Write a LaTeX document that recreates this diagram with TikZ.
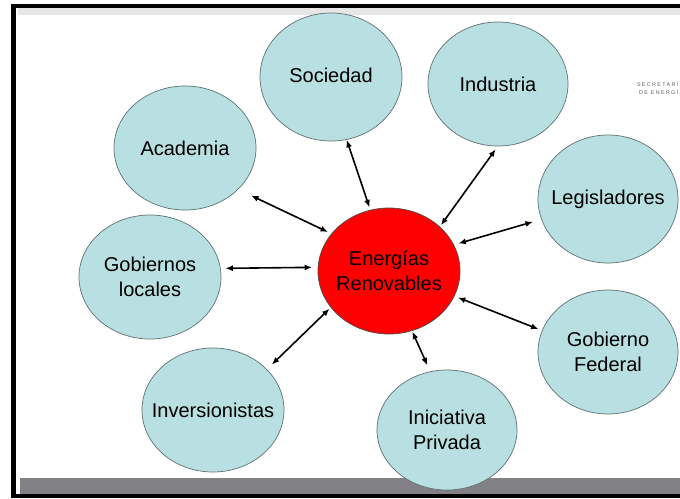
\documentclass[tikz,border=0pt]{standalone}
\usepackage{fontspec}
\setmainfont{Liberation Sans}
\newfontfamily\logofont[LetterSpace=25]{Liberation Sans}
\usetikzlibrary{shapes.geometric,arrows.meta}
\definecolor{bub}{HTML}{B8DFE1}
\definecolor{bubedge}{HTML}{5F7273}
\definecolor{barg}{HTML}{818185}
\definecolor{bandg}{HTML}{E6E6E6}
\definecolor{logog}{HTML}{606060}
\begin{document}
\begin{tikzpicture}[x=1pt,y=-1pt,
  bubble/.style={ellipse,draw=bubedge,line width=0.7pt,fill=bub,inner sep=0pt,outer sep=0pt},
  core/.style={bubble,fill=red,draw=black!70},
  txt/.style={align=center,inner sep=0pt,font=\fontsize{20}{25}\selectfont},
  link/.style={{Latex[length=7.5pt,width=6pt]}-{Latex[length=7.5pt,width=6pt]},line width=1.6pt,black},
  logo/.style={anchor=east,inner sep=0pt,text=logog,font=\logofont\fontsize{5.4}{6}\selectfont}]
\useasboundingbox (0,0) rectangle (680,498);
% frame
\fill[white] (0,0) rectangle (680,498);
\fill[bandg] (18,8) rectangle (680,15);
\fill[barg] (20,478) rectangle (680,494);
\fill[black] (11,4) rectangle (680,8);
\fill[black] (11,4) rectangle (16,498);
\fill[black] (11,494) rectangle (680,498);
% logo
\node[logo] (logo1) at (678.5,84) {SECRETARÍ};
\node[logo] (logo2) at (678.5,92) {DE ENERGÍ};
% nodes
\node[core, minimum width=142pt, minimum height=126pt] (er) at (389,271) {};
\node[txt] (ert) at (er) {Energías\\Renovables};
\node[bubble, minimum width=142pt, minimum height=128pt] (soc) at (331,77) {};
\node[txt] (soct) at (331,75) {Sociedad};
\node[bubble, minimum width=140pt, minimum height=124pt] (ind) at (498,84) {};
\node[txt] (indt) at (ind) {Industria};
\node[bubble, minimum width=142pt, minimum height=124pt] (aca) at (185,148) {};
\node[txt] (acat) at (aca) {Academia};
\node[bubble, minimum width=140pt, minimum height=128pt] (leg) at (608,199) {};
\node[txt] (legt) at (leg) {Legisladores};
\node[bubble, minimum width=142pt, minimum height=124pt] (gob) at (150,277) {};
\node[txt] (gobt) at (gob) {Gobiernos\\locales};
\node[bubble, minimum width=140pt, minimum height=124pt] (fed) at (608,352) {};
\node[txt] (fedt) at (fed) {Gobierno\\Federal};
\node[bubble, minimum width=142pt, minimum height=124pt] (inv) at (213,410) {};
\node[txt] (invt) at (inv) {Inversionistas};
\node[bubble, minimum width=140pt, minimum height=120pt] (ini) at (447,430) {};
\node[txt] (init) at (ini) {Iniciativa\\Privada};
% connectors
\draw[link, shorten <=0.5pt, shorten >=3pt] (soc.-76) -- (er.107);
\draw[link, shorten <=4pt, shorten >=2pt] (ind.-90) -- (er.41.5);
\draw[link, shorten <=14.5pt, shorten >=4pt] (aca.-38) -- (er.147);
\draw[link, shorten <=9pt, shorten >=5pt] (leg.197) -- (er.22);
\draw[link, shorten <=5pt, shorten >=6pt] (gob.7) -- (er.177.5);
\draw[link, shorten <=4pt, shorten >=4pt] (fed.162.5) -- (er.-21);
\draw[link, shorten <=7pt, shorten >=2pt] (inv.37.5) -- (er.212);
\draw[link, shorten <=7pt, shorten >=1pt] (ini.106.5) -- (er.-69.5);
\end{tikzpicture}
\end{document}
